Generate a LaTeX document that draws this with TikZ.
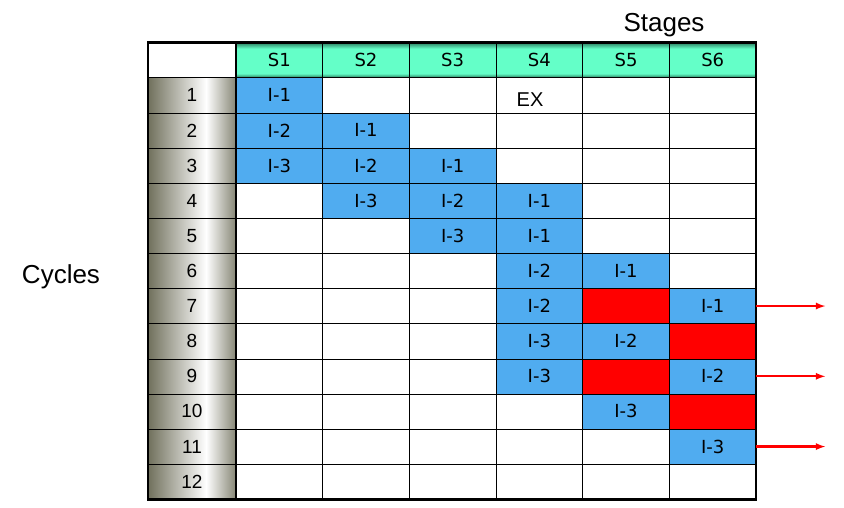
\documentclass[tikz,border=0pt]{standalone}
\usepackage{fontspec}
\setmainfont{Liberation Sans}
\newfontfamily\cellfont{DejaVu Sans}
\usetikzlibrary{positioning}

\definecolor{cellblue}{RGB}{80,172,240}
\definecolor{stallred}{RGB}{255,0,0}
\definecolor{mint}{RGB}{100,255,200}
\definecolor{mintdark}{RGB}{40,120,90}
\definecolor{olive}{RGB}{112,112,92}

% header and row-label shadings
\pgfdeclareverticalshading{stagehead}{100bp}{color(0bp)=(mintdark); color(25bp)=(mintdark); color(31bp)=(mint); color(66bp)=(mint); color(75bp)=(mintdark); color(100bp)=(mintdark)}
\pgfdeclarehorizontalshading{cyclehead}{100bp}{color(0bp)=(olive); color(25bp)=(olive); color(58bp)=(white); color(75bp)=(olive!85); color(100bp)=(olive!85)}

\begin{document}
\begin{tikzpicture}[x=1pt,y=-1pt,
    cell/.style={draw, minimum width=86.67pt, minimum height=35.13pt, inner sep=0pt, font=\cellfont\fontsize{18}{18}\selectfont},
    busy/.style={cell, fill=cellblue},
    stall/.style={cell, fill=stallred},
    head/.style={cell, shading=stagehead},
    cyc/.style={draw, minimum width=88pt, minimum height=35.13pt, inner sep=0pt, shading=cyclehead, font=\fontsize{19}{19}\selectfont},
    title/.style={font=\fontsize{26}{26}\selectfont, anchor=base},
    outarrow/.style={-latex, draw=stallred, line width=2.2pt}]
    \useasboundingbox (0,0) rectangle (844,508);
    % grid
    \fill[white] (148,42.3) rectangle (756,499.3);
    \foreach \r in {1,...,11}
        \draw (236,{77.7+\r*35.13}) -- (756,{77.7+\r*35.13});
    \foreach \c in {1,...,5}
        \draw ({236+\c*86.67},77.7) -- ({236+\c*86.67},499.3);
    % stages
    \node[cyc, shading=axis, top color=white, bottom color=white, minimum height=35.4pt] (corner) at (192,60) {};
    \foreach \c in {1,...,6}
        \node[head, minimum height=35.4pt] (s\c) at ({236+(\c-0.5)*86.67},60) {S\c};
    % cycles
    \foreach \r in {1,...,12}
        \node[cyc] (n\r) at (192,{77.7+(\r-0.5)*35.13}) {\r};
    % occupied stages
    \foreach \r/\c/\t in {1/1/I-1, 2/1/I-2, 2/2/I-1, 3/1/I-3, 3/2/I-2, 3/3/I-1,
        4/2/I-3, 4/3/I-2, 4/4/I-1, 5/3/I-3, 5/4/I-1, 6/4/I-2, 6/5/I-1,
        7/4/I-2, 7/6/I-1, 8/4/I-3, 8/5/I-2, 9/4/I-3, 9/6/I-2, 10/5/I-3, 11/6/I-3}
        \node[busy] (c\r-\c) at ({236+(\c-0.5)*86.67},{77.7+(\r-0.5)*35.13}) {\t};
    \foreach \r/\c in {7/5, 8/6, 9/5, 10/6}
        \node[stall] (c\r-\c) at ({236+(\c-0.5)*86.67},{77.7+(\r-0.5)*35.13}) {};
    \node[font=\fontsize{20}{20}\selectfont, anchor=base] (ex) at (530,107) {EX};
    % outer frame
    \draw[line width=2.6pt] (148,42.3) rectangle (756,499.3);
    \draw[line width=1.2pt] (236,42.3) -- (236,499.3);
    \draw[line width=1.2pt] (148,77.7) -- (756,77.7);
    % titles
    \node[title] (stages) at (664,32) {Stages};
    \node[title] (cycles) at (61,283) {Cycles};
    % results leaving S6
    \foreach \r in {7,9,11} {
        \coordinate[right=69pt of c\r-6.east] (out\r);
        \draw[outarrow] (c\r-6.east) -- (out\r);
    }
\end{tikzpicture}
\end{document}
